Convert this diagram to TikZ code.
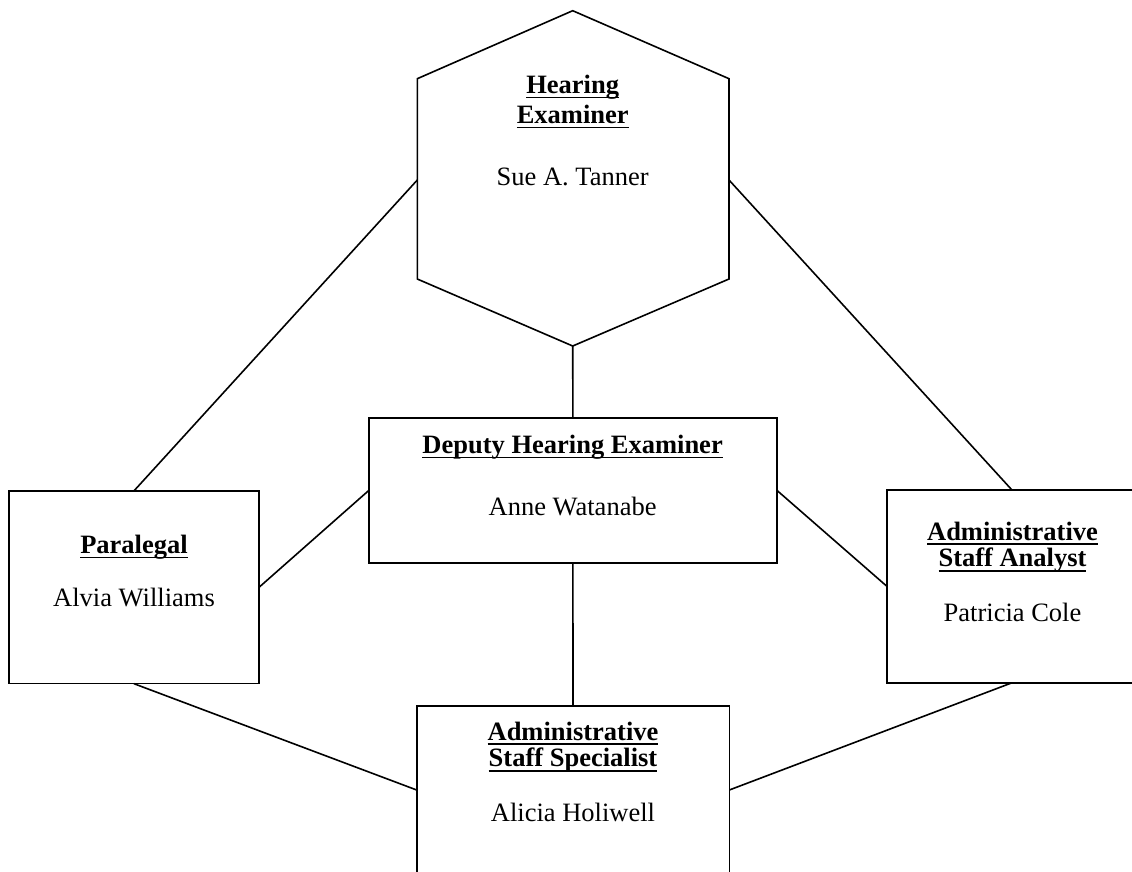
\documentclass[tikz,border=0pt]{standalone}
\usepackage{fontspec}
\setmainfont{Liberation Serif}
\newcommand\myul[1]{\setbox0\hbox{#1}\rlap{\rule[-5pt]{\wd0}{1.8pt}}\box0}
\begin{document}
\begin{tikzpicture}[x=1pt,y=-1pt,
  box/.style={draw,line width=1.6pt,inner sep=0pt,outer sep=0pt,rectangle},
  conn/.style={line width=1.6pt},
  titletxt/.style={anchor=base,inner sep=0pt,font=\fontsize{26.5}{30}\selectfont\bfseries},
  nametxt/.style={anchor=base,inner sep=0pt,font=\fontsize{26.5}{30}\selectfont}]
\fill[white] (0,0) rectangle (1132,871);
\useasboundingbox (0,0) rectangle (1132,871);

% hexagon
\coordinate (hT) at (572.7,10.7);
\coordinate (hUR) at (729,78.7);
\coordinate (hLR) at (729,279);
\coordinate (hB) at (572.7,346);
\coordinate (hLL) at (417.3,279);
\coordinate (hUL) at (417.3,78.7);
\coordinate (hL) at (417.3,180);
\coordinate (hR) at (729,180);
\draw[line width=1.6pt,line join=miter] (hT) -- (hUR) -- (hLR) -- (hB) -- (hLL) -- (hUL) -- cycle;

% boxes
\node[box,minimum width=407.7pt,minimum height=145pt] (dep) at (572.9,490.2) {};
\node[box,minimum width=250.3pt,minimum height=192.7pt] (para) at (133.9,587.3) {};
\node[box,minimum width=250pt,minimum height=192.7pt] (anal) at (1012,586.4) {};
\node[box,minimum width=312.6pt,minimum height=168pt] (spec) at (573,790) {};

% connectors
\draw[conn] (hL) -- (para.north);
\draw[conn] (hR) -- (anal.north);
\draw[conn] (hB) -- (dep.north);
\draw[conn] (dep.west) -- (para.east);
\draw[conn] (dep.east) -- (anal.west);
\draw[conn] (dep.south) -- (spec.north);
\draw[conn] (para.south) -- (spec.west);
\draw[conn] (anal.south) -- (spec.east);

% texts
\node[titletxt] (hexT1) at (572.7,93.3) {\myul{Hearing}};
\node[titletxt] (hexT2) at (572.7,123.3) {\myul{Examiner}};
\node[nametxt] (hexN) at (572.7,185) {Sue A. Tanner};

\node[titletxt] (depT) at (572.6,453.3) {\myul{Deputy Hearing Examiner}};
\node[nametxt] (depN) at (572.6,515) {Anne Watanabe};

\node[titletxt] (paraT) at (134,553.3) {\myul{Paralegal}};
\node[nametxt] (paraN) at (134,606.7) {Alvia Williams};

\node[titletxt] (analT1) at (1012.5,540) {\myul{Administrative}};
\node[titletxt] (analT2) at (1012.5,566.7) {\myul{Staff Analyst}};
\node[nametxt] (analN) at (1012.5,621.7) {Patricia Cole};

\node[titletxt] (specT1) at (573,740) {\myul{Administrative}};
\node[titletxt] (specT2) at (573,766.7) {\myul{Staff Specialist}};
\node[nametxt] (specN) at (573,821.7) {Alicia Holiwell};
\end{tikzpicture}
\end{document}
